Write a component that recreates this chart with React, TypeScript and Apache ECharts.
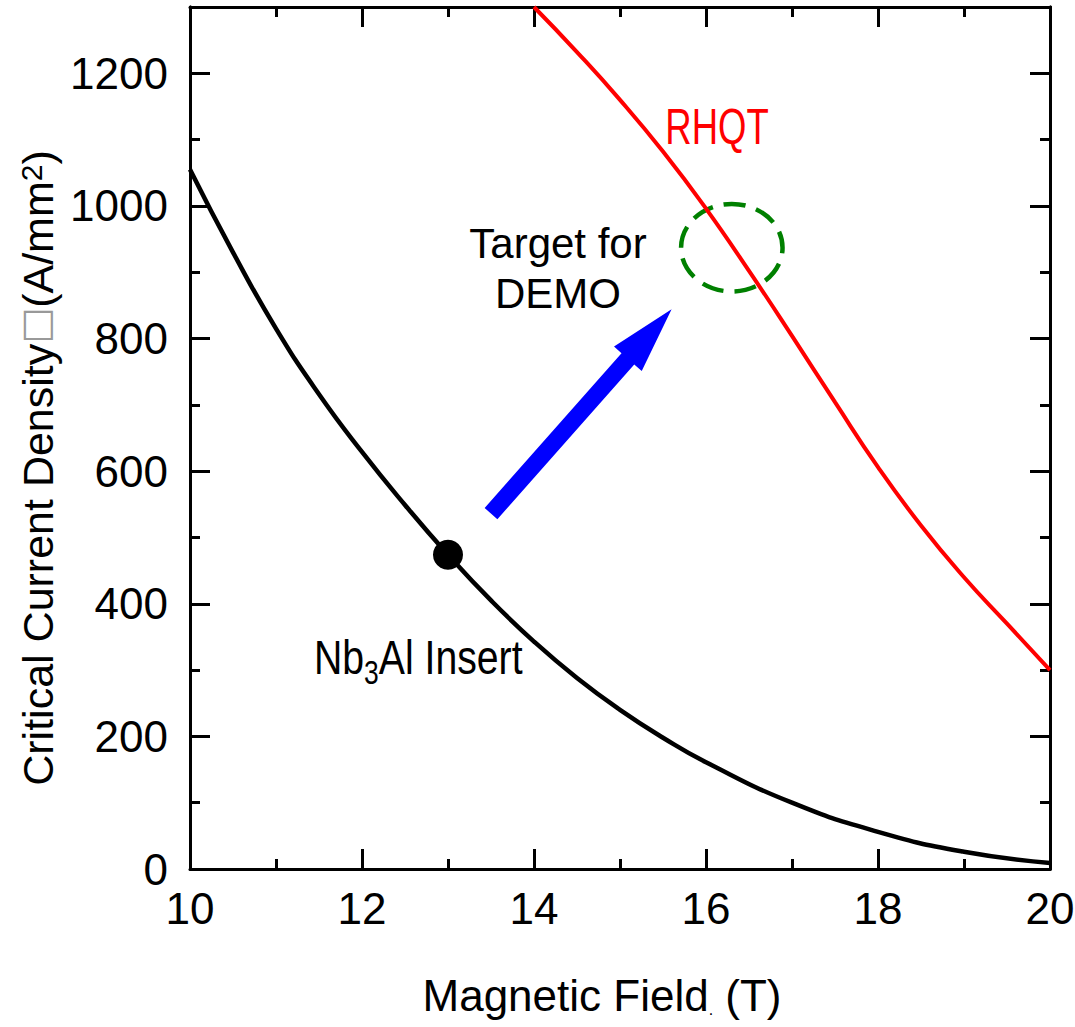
import React, { useEffect, useRef } from "react";
import * as echarts from "echarts";

// ---- data ----
const NB3AL_FIELD = [10, 10.5, 11, 11.5, 12, 12.5, 13, 13.5, 14, 14.5, 15, 15.5, 16, 17, 18, 19, 20];
const NB3AL_JC = [1055, 930, 815, 716, 629, 549, 474, 405, 343, 288, 240, 198, 161, 100, 56, 26, 9];

const RHQT_FIELD = [14, 14.5, 15, 15.5, 16, 16.5, 17, 17.5, 18, 18.5, 19, 19.5, 20];
const RHQT_JC = [1300, 1232, 1160, 1082, 996, 902, 804, 704, 606, 518, 440, 370, 300];

const INSERT_POINT = [13, 474];
// center field, center Jc, half-width (T), half-height (A/mm2)
const TARGET_ELLIPSE = [16.3, 937, 0.59, 66];
// tail field, tail Jc, tip field, tip Jc
const ARROW = [13.5, 536, 15.6, 844];

const X_MIN = 10;
const X_MAX = 20;
const Y_MIN = 0;
const Y_MAX = 1300;

const SANS = "'Liberation Sans', Arial, sans-serif";

export default function App() {
  const ref = useRef<HTMLDivElement>(null);

  useEffect(() => {
    document.body.style.margin = "0";
    if (!ref.current) return;
    const chart = echarts.init(ref.current, undefined, { renderer: "svg" });

    const axisLine = { show: true, onZero: false, lineStyle: { color: "#000", width: 3 } };
    const tickStyle = { color: "#000", width: 3 };

    const xBase = (pos: string, labels: boolean) => ({
      type: "value",
      position: pos,
      min: X_MIN,
      max: X_MAX,
      interval: 2,
      axisLine,
      splitLine: { show: false },
      axisTick: { show: true, inside: true, length: 20, lineStyle: tickStyle },
      minorTick: { show: true, splitNumber: 2, length: 10, lineStyle: tickStyle },
      axisLabel: labels
        ? { show: true, fontSize: 44, color: "#000", fontFamily: SANS, margin: 17 }
        : { show: false },
    });

    const yBase = (pos: string, interval: number, len: number, labels: boolean) => ({
      type: "value",
      position: pos,
      min: Y_MIN,
      max: Y_MAX,
      interval,
      axisLine,
      splitLine: { show: false },
      axisTick: { show: true, inside: true, length: len, lineStyle: tickStyle },
      axisLabel: labels
        ? {
            show: true,
            fontSize: 44,
            color: "#000",
            fontFamily: SANS,
            margin: 22,
            formatter: (v: number) => (v > 1200 ? "" : String(v)),
          }
        : { show: false },
    });

    const xMain: any = xBase("bottom", true);
    xMain.name = "{a|Magnetic Field}{d|.}{a| (T)}";
    xMain.nameLocation = "middle";
    xMain.nameGap = 104;
    xMain.nameTextStyle = {
      padding: [0, 36, 0, 0],
      rich: {
        a: { fontSize: 44, fontFamily: SANS, color: "#000" },
        d: { fontSize: 16, fontFamily: SANS, color: "#000", verticalAlign: "bottom", lineHeight: 18 },
      },
    };

    const yMain: any = yBase("left", 200, 20, true);
    yMain.name = "{a|Critical Current Density}{b|□}{a|(A/mm}{s|2}{a|)}";
    yMain.nameLocation = "middle";
    yMain.nameGap = 114;
    yMain.nameTextStyle = {
      padding: [0, 60, 0, 0],
      rich: {
        a: { fontSize: 43, fontFamily: SANS, color: "#000", lineHeight: 44, verticalAlign: "top" },
        b: { fontSize: 38, fontFamily: "'DejaVu Sans', sans-serif", color: "#999", lineHeight: 44, verticalAlign: "top" },
        s: { fontSize: 30, fontFamily: SANS, color: "#000", lineHeight: 26, verticalAlign: "top" },
      },
    };

    const zip = (xs: number[], ys: number[]) => xs.map((x, i) => [x, ys[i]]);

    const option: any = {
      animation: false,
      backgroundColor: "#fff",
      grid: {
        left: 190,
        right: 25,
        top: 7,
        bottom: 158,
        containLabel: false,
        outerBoundsMode: "none",
      },
      xAxis: [xMain, xBase("top", false)],
      yAxis: [
        yMain,
        yBase("left", 100, 10, false),
        yBase("right", 200, 20, false),
        yBase("right", 100, 10, false),
      ],
      series: [
        {
          type: "custom",
          name: "Target",
          data: [TARGET_ELLIPSE],
          z: 3,
          renderItem: (params: any, api: any) => {
            const c = api.coord([api.value(0), api.value(1)]);
            const s = api.size([api.value(2), api.value(3)], [api.value(0), api.value(1)]);
            return {
              type: "ellipse",
              shape: { cx: c[0], cy: c[1], rx: s[0], ry: s[1] },
              style: { fill: "none", stroke: "#008000", lineWidth: 4.5, lineDash: [22, 11] },
            };
          },
        },
        {
          type: "line",
          name: "RHQT",
          data: zip(RHQT_FIELD, RHQT_JC),
          smooth: 0.5,
          showSymbol: false,
          z: 4,
          lineStyle: { color: "#ff0000", width: 4 },
        },
        {
          type: "line",
          name: "Nb3Al Insert",
          data: zip(NB3AL_FIELD, NB3AL_JC),
          smooth: 0.5,
          showSymbol: false,
          z: 4,
          lineStyle: { color: "#000", width: 4.5 },
        },
        {
          type: "scatter",
          name: "Insert point",
          data: [INSERT_POINT],
          symbolSize: 30,
          z: 5,
          itemStyle: { color: "#000", opacity: 1 },
        },
        {
          type: "custom",
          name: "Arrow",
          data: [ARROW],
          z: 5,
          renderItem: (params: any, api: any) => {
            const t = api.coord([api.value(0), api.value(1)]);
            const h = api.coord([api.value(2), api.value(3)]);
            const dx = h[0] - t[0];
            const dy = h[1] - t[1];
            const L = Math.sqrt(dx * dx + dy * dy);
            const ux = dx / L;
            const uy = dy / L;
            const nx = -uy;
            const ny = ux;
            const shaftW = 8.5;
            const headW = 18.5;
            const headL = 66;
            const bx = h[0] - ux * headL;
            const by = h[1] - uy * headL;
            const pts = [
              [t[0] + nx * shaftW, t[1] + ny * shaftW],
              [bx + nx * shaftW, by + ny * shaftW],
              [bx + nx * headW, by + ny * headW],
              [h[0], h[1]],
              [bx - nx * headW, by - ny * headW],
              [bx - nx * shaftW, by - ny * shaftW],
              [t[0] - nx * shaftW, t[1] - ny * shaftW],
            ];
            return { type: "polygon", shape: { points: pts }, style: { fill: "#0000ff" } };
          },
        },
      ],
      graphic: [
        {
          type: "text",
          x: 717,
          y: 126,
          scaleX: 0.73,
          style: {
            text: "RHQT",
            fill: "#ff0000",
            fontSize: 50,
            fontFamily: SANS,
            align: "center",
            verticalAlign: "middle",
          },
        },
        {
          type: "text",
          x: 558,
          y: 268,
          style: {
            text: "Target for\nDEMO",
            fill: "#000",
            fontSize: 42,
            lineHeight: 50,
            fontFamily: SANS,
            align: "center",
            verticalAlign: "middle",
          },
        },
        {
          type: "text",
          x: 314,
          y: 632,
          scaleX: 0.8,
          style: {
            text: "{n|Nb}{s|3}{n|Al Insert}",
            align: "left",
            verticalAlign: "top",
            rich: {
              n: { fontSize: 49, fontFamily: SANS, fill: "#000", lineHeight: 48, verticalAlign: "top" },
              s: { fontSize: 33, fontFamily: SANS, fill: "#000", lineHeight: 33, verticalAlign: "top", padding: [24, 0, 0, 0] },
            },
          },
        },
      ],
    };

    chart.setOption(option);
    return () => chart.dispose();
  }, []);

  return <div ref={ref} style={{ width: 1075, height: 1027 }} />;
}
